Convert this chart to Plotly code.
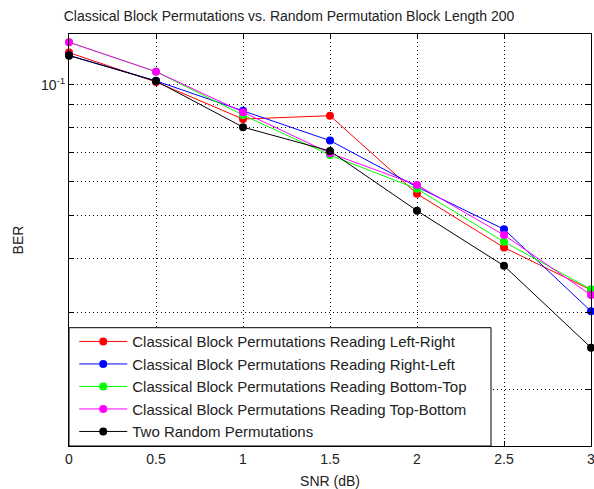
import plotly.graph_objects as go

snr = [0, 0.5, 1, 1.5, 2, 2.5, 3]

ber_left_right = [0.1187, 0.1016, 0.0835, 0.0850, 0.0562, 0.0423, 0.0338]
ber_right_left = [0.1170, 0.1022, 0.0872, 0.0745, 0.0583, 0.0466, 0.0302]
ber_bottom_top = [0.1254, 0.1073, 0.0853, 0.0690, 0.0577, 0.0436, 0.0339]
ber_top_bottom = [0.1254, 0.1073, 0.0866, 0.0697, 0.0589, 0.0452, 0.0329]
ber_random = [0.1168, 0.1021, 0.0800, 0.0705, 0.0514, 0.0384, 0.0249]

series_names = [
    "Classical Block Permutations Reading Left-Right",
    "Classical Block Permutations Reading Right-Left",
    "Classical Block Permutations Reading Bottom-Top",
    "Classical Block Permutations Reading Top-Bottom",
    "Two Random Permutations",
]
series_values = [ber_left_right, ber_right_left, ber_bottom_top, ber_top_bottom, ber_random]
series_colors = ["#FF0000", "#0000FF", "#00FF00", "#FF00FF", "#000000"]

x_tick_vals = [0, 0.5, 1, 1.5, 2, 2.5, 3]
x_tick_text = ["0", "0.5", "1", "1.5", "2", "2.5", "3"]
y_major_vals = [0.1]
y_major_text = ["10<sup>-1</sup>"]
y_minor_vals = [0.02, 0.03, 0.04, 0.05, 0.06, 0.07, 0.08, 0.09]

title_text = "Classical Block Permutations vs. Random Permutation Block Length 200"

FONT = "Liberation Sans, Arial, sans-serif"
TXT = "#222222"
DOTS = "1px,3px"

fig = go.Figure()
for i, (name, vals, col) in enumerate(zip(series_names, series_values, series_colors)):
    fig.add_trace(go.Scatter(
        x=snr, y=vals, name=name, mode="lines+markers",
        line=dict(color=col, width=1),
        marker=dict(color=col, size=8, symbol="circle", line=dict(width=0)),
        legendgroup=f"g{i}",
        cliponaxis=False,
    ))

axis_common = dict(
    showline=True, linecolor="black", linewidth=1, mirror="ticks",
    ticks="inside", ticklen=5, tickcolor="black",
    showgrid=True, gridcolor="black", gridwidth=1, griddash=DOTS,
    zeroline=False, automargin=False,
    ticklabeloverflow="allow",
    tickfont=dict(family=FONT, size=14, color=TXT),
)

# legend frame (paper coords of the plot area)
leg_right = (491 - 69) / 522
leg_top = (446 - 327.7) / 412

fig.update_layout(
    width=594, height=489,
    margin=dict(l=69, r=3, t=34, b=43),
    paper_bgcolor="white", plot_bgcolor="white",
    font=dict(family=FONT, size=14, color=TXT),
    title=dict(text=title_text, x=289 / 594, xanchor="center", xref="container",
               y=1 - 16 / 489, yanchor="middle", yref="container",
               font=dict(family=FONT, size=14, color=TXT)),
    xaxis=dict(range=[0, 3], tickvals=x_tick_vals, ticktext=x_tick_text,
               title=dict(text="SNR (dB)", standoff=11, font=dict(size=14)),
               **axis_common),
    yaxis=dict(type="log", range=[-1.8299, -0.8828],
               tickvals=y_major_vals, ticktext=y_major_text,
               minor=dict(tickvals=y_minor_vals, ticks="inside", ticklen=5,
                          tickcolor="black", showgrid=True, gridcolor="black",
                          gridwidth=1, griddash=DOTS),
               title=dict(text="BER", standoff=14, font=dict(size=14)),
               **axis_common),
    shapes=[dict(type="rect", xref="paper", yref="paper",
                 x0=0, x1=leg_right, y0=0, y1=leg_top,
                 line=dict(color="black", width=1), fillcolor="white",
                 layer="above")],
    legend=dict(x=0.01, y=leg_top + 2.5 / 412, xanchor="left", yanchor="top",
                borderwidth=0, bgcolor="rgba(0,0,0,0)",
                font=dict(family=FONT, size=15, color=TXT),
                itemwidth=48,
                tracegroupgap=3, traceorder="normal"),
    showlegend=True,
)

fig.write_html("out.html")
